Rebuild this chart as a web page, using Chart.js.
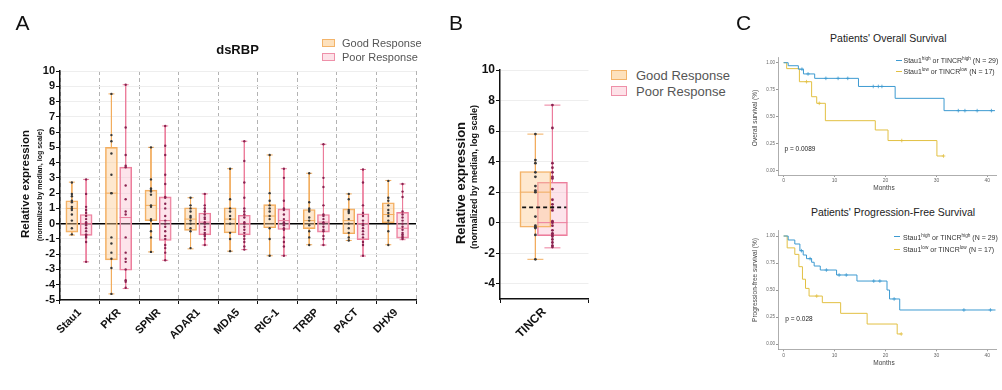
<!DOCTYPE html>
<html>
<head>
<meta charset="utf-8">
<script src="https://cdn.jsdelivr.net/npm/chart.js@4.4.0/dist/chart.umd.min.js"></script>
<style>
  body { margin:0; width:1002px; height:390px; background:#fff; position:relative; overflow:hidden;
         font-family:"Liberation Sans", Arial, sans-serif; color:#111; }
  canvas { position:absolute; display:block; }
  .t  { position:absolute; white-space:nowrap; line-height:1; transform:translate(-50%,-50%); }
  .tl { position:absolute; white-space:nowrap; line-height:1; transform:translateY(-50%); }
  .tv { position:absolute; white-space:nowrap; line-height:1; transform:translate(-50%,-50%) rotate(-90deg); font-weight:bold; }
  .sw { position:absolute; box-sizing:border-box; }
  .km { font-size:7px; color:#333; }
  .km sup { font-size:4.7px; vertical-align:3px; }
  .seg { position:absolute; height:1.2px; width:6px; }
</style>
</head>
<body>
<canvas id="chartA" width="430" height="390" style="left:0;top:0"></canvas>
<canvas id="chartB" width="155" height="390" style="left:450px;top:0"></canvas>
<canvas id="chartOS" width="262" height="145" style="left:740px;top:45px"></canvas>
<canvas id="chartPFS" width="262" height="145" style="left:740px;top:218px"></canvas>

<!-- panel letters -->
<div class="t" style="left:22.5px;top:21.5px;font-size:21px">A</div>
<div class="t" style="left:456px;top:21.5px;font-size:21px">B</div>
<div class="t" style="left:743.5px;top:21.5px;font-size:21px">C</div>

<!-- panel A texts -->
<div class="t" style="left:237.5px;top:49px;font-size:13px;font-weight:bold">dsRBP</div>
<div class="sw" style="left:322px;top:39px;width:13px;height:8px;background:#fde1bd;border:1px solid #f3b46a"></div>
<div class="sw" style="left:322px;top:53px;width:13px;height:8px;background:#fde2e8;border:1px solid #ee90a9"></div>
<div class="tl" style="left:342px;top:43px;font-size:11px;color:#555">Good Response</div>
<div class="tl" style="left:342px;top:57px;font-size:11px;color:#555">Poor Response</div>
<div class="tv" style="left:26px;top:184px;font-size:11.5px">Relative expression</div>
<div class="tv" style="left:38.5px;top:185px;font-size:7px">(normalized by median, log scale)</div>

<!-- panel B texts -->
<div class="sw" style="left:611px;top:70px;width:16px;height:10px;background:#fde1bd;border:1px solid #f3b46a"></div>
<div class="sw" style="left:611px;top:86px;width:16px;height:10px;background:#fde2e8;border:1px solid #ee90a9"></div>
<div class="tl" style="left:636px;top:75px;font-size:13px;color:#555">Good Response</div>
<div class="tl" style="left:636px;top:91px;font-size:13px;color:#555">Poor Response</div>
<div class="tv" style="left:460px;top:183px;font-size:13px">Relative expression</div>
<div class="tv" style="left:473.5px;top:176.5px;font-size:9px">(normalized by median, log scale)</div>

<!-- panel C texts -->
<div class="t" style="left:888.3px;top:38.3px;font-size:10.5px;color:#222">Patients' Overall Survival</div>
<div class="t" style="left:893px;top:211.7px;font-size:10.5px;color:#222">Patients' Progression-Free Survival</div>
<div class="seg" style="left:896px;top:59.5px;background:#3d9ad1"></div>
<div class="tl km" style="left:903.5px;top:60px">Stau1<sup>high</sup> or TINCR<sup>high</sup> (N = 29)</div>
<div class="seg" style="left:896px;top:70.5px;background:#e2c043"></div>
<div class="tl km" style="left:903.5px;top:71px">Stau1<sup>low</sup> or TINCR<sup>low</sup> (N = 17)</div>
<div class="seg" style="left:894px;top:236px;background:#3d9ad1"></div>
<div class="tl km" style="left:903px;top:236.7px">Stau1<sup>high</sup> or TINCR<sup>high</sup> (N = 29)</div>
<div class="seg" style="left:894px;top:248.5px;background:#e2c043"></div>
<div class="tl km" style="left:903px;top:249px">Stau1<sup>low</sup> or TINCR<sup>low</sup> (N = 17)</div>
<div class="t" style="left:800px;top:149.3px;font-size:6.5px;color:#222">p = 0.0089</div>
<div class="t" style="left:799px;top:319px;font-size:6.5px;color:#222">p = 0.028</div>
<div class="tv" style="left:755px;top:117.5px;font-size:6.5px;font-weight:normal;color:#444">Overall survival (%)</div>
<div class="tv" style="left:755px;top:280px;font-size:6.5px;font-weight:normal;color:#444">Progression-free survival (%)</div>
<div class="t" style="left:884px;top:188px;font-size:6.5px;color:#444">Months</div>
<div class="t" style="left:884px;top:362.7px;font-size:6.5px;color:#444">Months</div>

<script>
Chart.defaults.font.family = '"Liberation Sans", Arial, sans-serif';

// ---- panel A: dsRBP box plots ----
const genes = ['Stau1', 'PKR', 'SPNR', 'ADAR1', 'MDA5', 'RIG-1', 'TRBP', 'PACT', 'DHX9'];

const goodMin = [-0.75, -4.6, -1.85, -1.65, -1.8, -2.1, -1.38, -1.1, -1.38];
const goodQ1  = [-0.55, -2.37, 0.2, -0.44, -0.6, -0.27, -0.33, -0.66, 0.0];
const goodMed = [1.0, 2.0, 1.2, 0.3, 0.3, 0.5, 0.2, 0.2, 0.6];
const goodQ3  = [1.5, 5.0, 2.2, 1.04, 1.04, 1.25, 0.93, 0.97, 1.37];
const goodMax = [2.72, 8.5, 5.0, 1.7, 3.6, 4.5, 3.3, 1.95, 2.83];

const poorMin = [-2.5, -4.25, -2.4, -1.4, -1.7, -2.1, -1.4, -2.12, -1.05];
const poorQ1  = [-0.77, -3.05, -1.1, -0.73, -0.73, -0.38, -0.55, -1.05, -0.95];
const poorMed = [0.0, 0.4, 0.2, 0.1, 0.0, 0.2, 0.1, 0.0, -0.3];
const poorQ3  = [0.6, 3.7, 1.75, 0.7, 0.55, 0.97, 0.6, 0.65, 0.74];
const poorMax = [2.9, 9.1, 6.4, 1.95, 5.4, 3.6, 5.2, 3.55, 2.6];

const goodDots = [
  [2.7, 1.95, 1.8, 1.5, 1.4, 1.1, 1.0, 0.9, 0.6, 0.2, -0.3, -0.7],
  [8.5, 5.8, 5.4, 4.6, 3.2, 2.0, 2.0, -0.9, -1.3, -1.9, -2.3, -2.9, -4.6],
  [5.0, 2.9, 2.3, 2.2, 2.1, 1.9, 1.2, 1.1, 0.3, 0.2, -0.5, -0.9, -1.85],
  [1.7, 1.2, 1.0, 0.8, 0.5, 0.4, 0.2, 0.0, -0.3, -0.5, -1.6],
  [3.6, 1.6, 1.0, 0.8, 0.5, 0.3, 0.0, -0.6, -1.0, -1.8],
  [4.5, 2.0, 1.5, 1.2, 1.0, 0.8, 0.5, 0.3, -0.3, -1.0, -2.1],
  [3.3, 1.4, 1.0, 0.9, 0.8, 0.4, 0.2, -0.1, -0.5, -0.9, -1.4],
  [1.95, 1.6, 0.9, 0.8, 0.7, 0.3, 0.0, -0.3, -0.6, -0.9, -1.1],
  [2.8, 1.7, 1.5, 1.2, 0.9, 0.7, 0.5, 0.2, 0.0, -0.5, -1.4]
];
const poorDots = [
  [2.9, 1.95, 1.1, 0.9, 0.7, 0.5, 0.3, 0.1, 0.0, -0.1, -0.3, -0.5, -0.7, -0.75, -0.8, -0.9, -1.2, -2.5],
  [9.1, 6.3, 4.5, 3.8, 3.7, 2.5, 1.6, 0.8, 0.6, -0.9, -1.9, -2.3, -2.5, -3.0, -3.7, -3.8, -4.2],
  [6.4, 5.1, 4.5, 3.2, 2.6, 1.75, 1.7, 1.3, 1.0, 0.5, 0.2, 0.0, -0.2, -0.5, -0.8, -1.0, -1.4, -1.6, -1.9, -2.4],
  [1.95, 1.2, 1.0, 0.8, 0.6, 0.4, 0.3, 0.1, 0.0, -0.2, -0.4, -0.6, -0.7, -0.8, -1.0, -1.4],
  [5.4, 4.1, 2.7, 1.7, 1.0, 0.8, 0.6, 0.4, 0.1, 0.0, -0.2, -0.4, -0.6, -0.8, -1.0, -1.2, -1.5, -1.7],
  [3.6, 3.0, 1.5, 1.0, 0.9, 0.6, 0.3, 0.1, 0.0, -0.1, -0.3, -0.4, -0.9, -1.2, -1.5, -2.1],
  [5.2, 3.0, 2.4, 1.2, 0.6, 0.5, 0.3, 0.1, 0.0, -0.2, -0.4, -0.5, -0.8, -1.0, -1.4],
  [3.55, 2.7, 1.2, 0.7, 0.5, 0.2, 0.0, -0.1, -0.3, -0.5, -0.7, -0.9, -1.2, -1.4, -2.1],
  [2.6, 2.1, 1.75, 0.8, 0.6, 0.4, 0.2, 0.0, -0.2, -0.4, -0.6, -0.7, -0.8, -0.9, -1.0]
];
const yTicksA = [-5, -4, -3, -2, -1, 0, 1, 2, 3, 4, 5, 6, 7, 8, 9, 10];

// ---- panel B: TINCR ----
const tincrLabel = ['TINCR'];
const tincrGood = { min: [-2.4], q1: [-0.3], med: [2.0], q3: [3.35], max: [5.8] };
const tincrPoor = { min: [-1.65], q1: [-0.85], med: [0.0], q3: [2.65], max: [7.7] };
const tincrGoodDots = [[5.8, 4.1, 3.9, 3.3, 3.0, 2.4, 2.1, 2.0, 0.4, -0.2, -0.3, -0.35, -0.8, -2.4]];
const tincrPoorDots = [[7.7, 6.2, 3.9, 3.6, 3.3, 3.0, 2.9, 2.2, 1.5, 1.2, 1.0, 0.8, 0.1, 0.0, -0.2, -0.5, -0.7, -0.8, -0.9, -1.1, -1.3, -1.5, -1.6]];
const yTicksB = [-4, -2, 0, 2, 4, 6, 8, 10];
const refLevel = 1;

// ---- panel C: Kaplan-Meier ----
const osHighT = [0, 0.9, 2.9, 3.9, 6.1, 14.7, 21.9, 31.5, 41.5];
const osHighS = [1, 0.972, 0.94, 0.896, 0.855, 0.78, 0.67, 0.556, 0.556];
const osHighCens = [3.6, 4.8, 8.3, 10.7, 12.6, 17.6, 18.6, 19.3, 34.3, 35.6, 38, 40.8];
const osLowT = [0, 0.6, 3.1, 5.5, 6.5, 8.2, 18.0, 20.5, 30.1, 31.4];
const osLowS = [1, 0.945, 0.824, 0.685, 0.624, 0.463, 0.377, 0.279, 0.136, 0.136];
const osLowCens = [4.5, 7.0, 23.2, 31.4];

const pfsHighT = [0, 0.9, 2.2, 3.2, 3.85, 4.5, 5.5, 6.0, 7.2, 10.4, 14.4, 20.3, 20.8, 22.8, 41.6];
const pfsHighS = [1, 0.963, 0.926, 0.864, 0.824, 0.79, 0.757, 0.722, 0.685, 0.639, 0.583, 0.5, 0.417, 0.315, 0.315];
const pfsHighCens = [3.5, 5.2, 8.4, 10.9, 12.3, 17.7, 18.9, 21.7, 35.4, 40.6];
const pfsLowT = [0, 0.7, 2.2, 3.0, 3.7, 4.3, 5.0, 7.6, 11.2, 16.4, 22.3, 23.1];
const pfsLowS = [1, 0.89, 0.83, 0.716, 0.6, 0.515, 0.444, 0.383, 0.284, 0.185, 0.093, 0.093];
const pfsLowCens = [6.5, 23.1];
const kmXTicks = [0, 10, 20, 30, 40];
const kmYTicks = [0, 0.25, 0.5, 0.75, 1];

const goodCol = { fill: 'rgba(253,203,148,0.45)', line: '#f2ad5e', dot: '#383838' };
const poorCol = { fill: 'rgba(250,188,204,0.40)', line: '#ec7d9c', dot: '#8a2350' };
const blue = '#3d9ad1';
const yellow = '#e2c043';
const boldTick = { size: 11, weight: 'bold' };

// box plot pieces for one response group
function groupSets(pos, mins, q1s, meds, q3s, maxs, dots, col, boxW, capR, dotR) {
  const whisker = [], caps = [], boxes = [], medians = [], points = [];
  pos.forEach((x, i) => {
    whisker.push({x, y: maxs[i]}, {x, y: q3s[i]}, {x, y: null},
                 {x, y: q1s[i]}, {x, y: mins[i]}, {x, y: null});
    caps.push({x, y: mins[i]}, {x, y: maxs[i]});
    boxes.push({x, y: [q1s[i], q3s[i]]});
    medians.push({x, y: meds[i]});
    dots[i].forEach(v => points.push({x, y: v}));
  });
  return [
    { type: 'line', data: whisker, borderColor: col.line, borderWidth: 1, pointRadius: 0, spanGaps: false, order: 4 },
    { type: 'scatter', data: caps, pointStyle: 'line', pointRadius: capR, borderColor: col.line, borderWidth: 1, order: 3 },
    { type: 'bar', data: boxes, backgroundColor: col.fill, borderColor: col.line, borderWidth: 1,
      borderSkipped: false, barThickness: boxW, grouped: false, order: 2 },
    { type: 'scatter', data: medians, pointStyle: 'line', pointRadius: boxW / 2, borderColor: col.line, borderWidth: 1, order: 1 },
    { type: 'scatter', data: points, pointRadius: dotR, backgroundColor: col.dot, borderWidth: 0, order: 0 }
  ];
}

const noPlugins = { legend: { display: false }, tooltip: { enabled: false } };

// Panel A
const posGoodA = genes.map((g, i) => i + 0.3);
const posPoorA = genes.map((g, i) => i + 0.66);
new Chart(document.getElementById('chartA'), {
  type: 'scatter',
  data: {
    datasets: [
      ...groupSets(posGoodA, goodMin, goodQ1, goodMed, goodQ3, goodMax, goodDots, goodCol, 12, 3, 1.2),
      ...groupSets(posPoorA, poorMin, poorQ1, poorMed, poorQ3, poorMax, poorDots, poorCol, 12, 3, 1.2)
    ]
  },
  options: {
    responsive: false, animation: false, devicePixelRatio: 1,
    layout: { padding: { top: 71, right: 14, bottom: 0, left: 0 } },
    plugins: noPlugins,
    scales: {
      x: {
        type: 'linear', min: 0, max: genes.length, offset: false,
        afterBuildTicks: s => { s.ticks = genes.map((g, i) => ({ value: i + 0.5 })); },
        afterFit: s => { s.height = 90; },
        ticks: { autoSkip: false, maxRotation: 45, minRotation: 45, padding: 2, color: '#111', font: boldTick,
                 callback: (v, i) => genes[i] },
        grid: { drawOnChartArea: false, tickLength: 4, tickColor: '#111' },
        border: { color: '#111', width: 1.5 }
      },
      xg: {
        type: 'linear', position: 'bottom', min: 0, max: genes.length,
        afterFit: s => { s.height = 0; },
        ticks: { display: false, stepSize: 1 },
        grid: { color: '#b3b3b3', lineWidth: 1, drawTicks: false },
        border: { display: false, dash: [4, 3] }
      },
      y: {
        min: -5, max: 10,
        afterBuildTicks: s => { s.ticks = yTicksA.map(v => ({ value: v })); },
        afterFit: s => { s.width = 60; },
        ticks: { autoSkip: false, padding: 1, color: '#111', font: boldTick },
        grid: {
          color: c => (c.tick && c.tick.value === 0) ? '#000' : '#eeeeee',
          lineWidth: c => (c.tick && c.tick.value === 0) ? 1.5 : 1,
          tickColor: '#111', tickLength: 4
        },
        border: { color: '#111', width: 1.5 }
      }
    }
  }
});

// Panel B
new Chart(document.getElementById('chartB'), {
  type: 'scatter',
  data: {
    datasets: [
      { type: 'line', data: [{x: 0, y: refLevel}, {x: 1, y: refLevel}], borderColor: '#111', borderWidth: 1.6,
        borderDash: [4, 3], pointRadius: 0, order: -1 },
      ...groupSets([0.3], tincrGood.min, tincrGood.q1, tincrGood.med, tincrGood.q3, tincrGood.max, tincrGoodDots, goodCol, 31, 8, 1.4),
      ...groupSets([0.685], tincrPoor.min, tincrPoor.q1, tincrPoor.med, tincrPoor.q3, tincrPoor.max, tincrPoorDots, poorCol, 30, 8, 1.4)
    ]
  },
  options: {
    responsive: false, animation: false, devicePixelRatio: 1,
    layout: { padding: { top: 70, right: 8, bottom: 0, left: 0 } },
    plugins: noPlugins,
    scales: {
      x: {
        type: 'linear', min: 0, max: 1,
        afterBuildTicks: s => { s.ticks = [{ value: 0.5 }]; },
        afterFit: s => { s.height = 91; },
        ticks: { autoSkip: false, maxRotation: 45, minRotation: 45, padding: 2, color: '#111',
                 font: { size: 12, weight: 'bold' }, callback: (v, i) => tincrLabel[i] },
        grid: { drawOnChartArea: false, tickLength: 4, tickColor: '#111' },
        border: { color: '#111', width: 1.5 }
      },
      y: {
        min: -5, max: 10,
        afterBuildTicks: s => { s.ticks = yTicksB.map(v => ({ value: v })); },
        afterFit: s => { s.width = 50; },
        ticks: { autoSkip: false, padding: 1, color: '#111', font: { size: 12, weight: 'bold' } },
        grid: { color: '#eeeeee', tickColor: '#111', tickLength: 4 },
        border: { color: '#111', width: 1.5 }
      }
    }
  }
});

// Panel C
function stepAt(times, surv, t) {
  let s = surv[0];
  times.forEach((tt, i) => { if (tt <= t) s = surv[i]; });
  return s;
}
function kmSets(times, surv, cens, color) {
  return [
    { type: 'line', data: times.map((t, i) => ({ x: t, y: surv[i] })), stepped: 'before',
      borderColor: color, borderWidth: 1, pointRadius: 0, fill: false },
    { type: 'scatter', data: cens.map(t => ({ x: t, y: stepAt(times, surv, t) })),
      pointStyle: 'cross', pointRadius: 1.8, borderColor: color, borderWidth: 0.8 }
  ];
}
function makeKM(id, sets, padTop, yMin, xHeight) {
  new Chart(document.getElementById(id), {
    type: 'scatter',
    data: { datasets: sets },
    options: {
      responsive: false, animation: false, devicePixelRatio: 1,
      layout: { padding: { top: padTop, right: 6, bottom: 0, left: 0 } },
      plugins: noPlugins,
      scales: {
        x: {
          type: 'linear', min: -1.1, max: 41.7,
          afterBuildTicks: s => { s.ticks = kmXTicks.map(v => ({ value: v })); },
          afterFit: s => { s.height = xHeight; },
          ticks: { autoSkip: false, padding: 1, color: '#666', font: { size: 5 } },
          grid: { drawOnChartArea: false, tickLength: 2, tickColor: '#999' },
          border: { color: '#999', width: 0.8 }
        },
        y: {
          min: yMin, max: 1.05,
          afterBuildTicks: s => { s.ticks = kmYTicks.map(v => ({ value: v })); },
          afterFit: s => { s.width = 38; },
          ticks: { autoSkip: false, padding: 1, color: '#666', font: { size: 4.5 }, callback: v => v.toFixed(2) },
          grid: { drawOnChartArea: false, tickLength: 2, tickColor: '#999' },
          border: { color: '#999', width: 0.8 }
        }
      }
    }
  });
}
makeKM('chartOS', [...kmSets(osHighT, osHighS, osHighCens, blue), ...kmSets(osLowT, osLowS, osLowCens, yellow)], 12.3, -0.04, 15);
makeKM('chartPFS', [...kmSets(pfsHighT, pfsHighS, pfsHighCens, blue), ...kmSets(pfsLowT, pfsLowS, pfsLowCens, yellow)], 12.6, -0.049, 13.7);
</script>
</body>
</html>
